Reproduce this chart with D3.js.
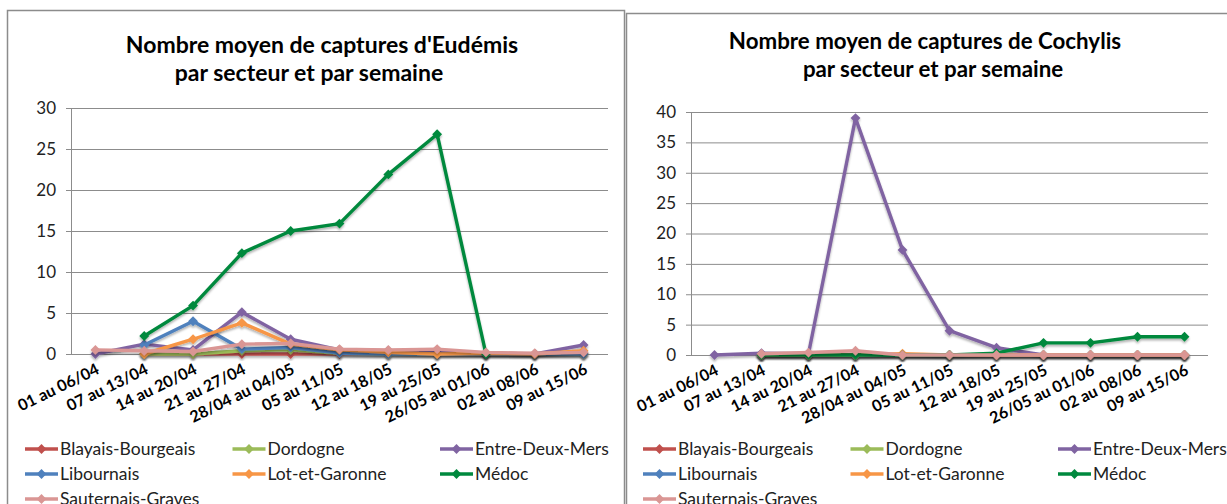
<!DOCTYPE html>
<html>
<head>
<meta charset="utf-8">
<script src="https://cdn.jsdelivr.net/npm/d3@7"></script>
<style>
  body { margin: 0; background: #fff; }
  svg { display: block; font-family: Lato, "Open Sans", sans-serif; }
</style>
</head>
<body>
<svg id="chart" width="1227" height="504"></svg>
<script>
// weeks (x categories), same for both charts
const weeks = ["01 au 06/04", "07 au 13/04", "14 au 20/04", "21 au 27/04", "28/04 au 04/05",
  "05 au 11/05", "12 au 18/05", "19 au 25/05", "26/05 au 01/06", "02 au 08/06", "09 au 15/06"];

const sectors = ["Blayais-Bourgeais", "Dordogne", "Entre-Deux-Mers", "Libournais",
  "Lot-et-Garonne", "Médoc", "Sauternais-Graves"];
const colors = ["#c0504d", "#9bbb59", "#8064a2", "#4f81bd", "#f79646", "#00893e", "#da9694"];

// Eudémis, one array per sector (null = no trap reading)
const eudBlayais   = [null, 0, 0, 0, 0, 0, 0, 0, 0, 0, 0];
const eudDordogne  = [null, 0, 0, 0.4, 0.5, 0.1, 0, 0, 0, 0, 0];
const eudEntreDeux = [0, 1.2, 0.5, 5.1, 1.8, 0.5, 0.4, 0.3, 0.1, 0, 1.1];
const eudLibournais = [null, 1.1, 4.0, 0.6, 0.8, 0.1, 0, 0, 0, 0, 0];
const eudLotGaronne = [null, 0, 1.8, 3.8, 1.2, 0.5, 0.2, 0, 0.1, 0, 0.4];
const eudMedoc     = [null, 2.2, 5.9, 12.3, 15.0, 15.9, 21.9, 26.8, 0, null, null];
const eudSauternais = [0.5, 0.4, 0.3, 1.2, 1.3, 0.6, 0.5, 0.6, 0.2, 0.1, 0.2];

// Cochylis
const cocBlayais   = [null, 0, 0, 0, 0, 0, 0, 0, 0, 0, 0];
const cocDordogne  = [null, 0, 0, 0, 0, 0, 0, 0, 0, 0, 0];
const cocEntreDeux = [0, 0.3, 0.2, 39, 17.3, 4, 1.2, 0, 0, 0, 0];
const cocLibournais = [null, 0, 0, 0, 0, 0, 0, 0, 0, 0, 0];
const cocLotGaronne = [null, 0, 0, 0, 0.2, 0, 0, 0, 0, 0, 0];
const cocMedoc     = [null, 0, 0, 0, 0, 0, 0.3, 2, 2, 3, 3];
const cocSauternais = [null, 0.2, 0.4, 0.7, 0, 0, 0, 0, 0, 0, 0];

const eudTicks = [0, 5, 10, 15, 20, 25, 30];
const cocTicks = [0, 5, 10, 15, 20, 25, 30, 35, 40];

const svg = d3.select("#chart");

const defs = svg.append("defs");
defs.append("filter").attr("id", "shadow")
  .attr("x", "-10%").attr("y", "-10%").attr("width", "120%").attr("height", "130%")
  .append("feDropShadow").attr("dx", 0).attr("dy", 2).attr("stdDeviation", 1.3)
  .attr("flood-color", "#000").attr("flood-opacity", 0.3);

const diamond = d3.symbol().type(d3.symbolDiamond2).size(62);

function drawChart(cfg) {
  const g = svg.append("g");

  // chart frame
  g.append("rect").attr("x", cfg.frame[0]).attr("y", cfg.frame[1])
    .attr("width", cfg.frame[2]).attr("height", cfg.frame[3])
    .attr("fill", "none").attr("stroke", "#8c8c8c").attr("stroke-width", 1.5);

  cfg.title.forEach(t => {
    g.append("text").attr("x", t.x).attr("y", t.y)
      .attr("text-anchor", "middle").style("font-weight", "bold").style("font-size", cfg.titleSize)
      .attr("fill", "#000").text(t.text);
  });

  const x = d3.scalePoint().domain(weeks).range([cfg.left, cfg.right]).padding(0.5);
  const y = d3.scaleLinear().domain([0, d3.max(cfg.ticks)]).range([cfg.bottom, cfg.top]);

  // gridlines
  g.append("g").attr("transform", `translate(${cfg.left},0)`)
    .call(d3.axisLeft(y).tickValues(cfg.ticks).tickSize(-(cfg.right - cfg.left)).tickFormat(""))
    .call(a => a.select(".domain").remove())
    .call(a => a.selectAll("line").attr("stroke", "#8c8c8c"));

  // y axis
  g.append("g").attr("transform", `translate(${cfg.left},0)`)
    .call(d3.axisLeft(y).tickValues(cfg.ticks).tickSize(5).tickPadding(10))
    .call(a => a.select(".domain").attr("stroke", "#8c8c8c"))
    .call(a => a.selectAll("line").attr("stroke", "#8c8c8c"))
    .call(a => a.selectAll("text").style("font-size", "17px").attr("fill", "#222")
      .style("font-family", "Lato, sans-serif"));

  // x labels, rotated
  g.append("g").selectAll("text").data(weeks).join("text")
    .attr("transform", d => `translate(${x(d) + 5},${cfg.bottom + 19}) rotate(-26)`)
    .attr("text-anchor", "end")
    .style("font-size", "16px").style("font-weight", "bold").attr("fill", "#000")
    .text(d => d);

  const line = d3.line().defined(d => d.v != null).x(d => x(d.w)).y(d => y(d.v));

  cfg.series.forEach((vals, i) => {
    const pts = vals.map((v, j) => ({ w: weeks[j], v }));
    const s = g.append("g").attr("filter", "url(#shadow)");
    s.append("path").datum(pts).attr("d", line)
      .attr("fill", "none").attr("stroke", colors[i]).attr("stroke-width", 3.4)
      .attr("stroke-linejoin", "round");
    s.selectAll("path.m").data(pts.filter(p => p.v != null)).join("path").attr("class", "m")
      .attr("transform", p => `translate(${x(p.w)},${y(p.v)})`)
      .attr("d", diamond).attr("fill", colors[i]);
  });

  // legend, 3 columns
  const leg = g.append("g");
  sectors.forEach((name, i) => {
    const lx = cfg.legX + (i % 3) * 207.5;
    const ly = cfg.legY + Math.floor(i / 3) * 25;
    const it = leg.append("g").attr("transform", `translate(${lx},${ly})`);
    it.append("line").attr("x1", 0).attr("x2", 33).attr("stroke", colors[i]).attr("stroke-width", 3.4);
    it.append("path").attr("transform", "translate(16.5,0)").attr("d", diamond).attr("fill", colors[i]);
    it.append("text").attr("x", 35).attr("dy", "0.35em").style("font-size", "17.5px")
      .attr("fill", "#222").text(name);
  });
}

drawChart({
  frame: [7.5, 10.5, 617, 520],
  titleSize: "23px",
  title: [{ text: "Nombre moyen de captures d'Eudémis", x: 322, y: 53 },
          { text: "par secteur et par semaine", x: 309, y: 81 }],
  left: 71, right: 608, top: 108, bottom: 354,
  ticks: eudTicks,
  series: [eudBlayais, eudDordogne, eudEntreDeux, eudLibournais, eudLotGaronne, eudMedoc, eudSauternais],
  legX: 25, legY: 449
});

drawChart({
  frame: [626.5, 13.5, 640, 520],
  titleSize: "22.3px",
  title: [{ text: "Nombre moyen de captures de Cochylis", x: 925, y: 49 },
          { text: "par secteur et par semaine", x: 933, y: 77 }],
  left: 691, right: 1208, top: 112, bottom: 355,
  ticks: cocTicks,
  series: [cocBlayais, cocDordogne, cocEntreDeux, cocLibournais, cocLotGaronne, cocMedoc, cocSauternais],
  legX: 643, legY: 449
});
</script>
</body>
</html>
